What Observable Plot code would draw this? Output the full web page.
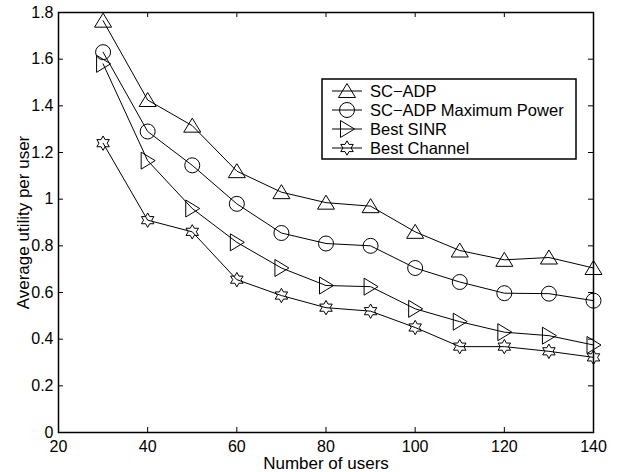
<!DOCTYPE html>
<html>
<head>
<meta charset="utf-8">
<script src="https://cdn.jsdelivr.net/npm/d3@7"></script>
<script src="https://cdn.jsdelivr.net/npm/@observablehq/plot@0.6"></script>
<style>
  html, body { margin: 0; padding: 0; background: #fff; }
  #wrap { position: relative; width: 618px; height: 472px; }
  #legend { position: absolute; left: 0; top: 0; }
</style>
</head>
<body>
<div id="wrap"></div>
<script>
// ---- data ----
const users = [30, 40, 50, 60, 70, 80, 90, 100, 110, 120, 130, 140];
const seriesNames = ["SC\u2212ADP", "SC\u2212ADP Maximum Power", "Best SINR", "Best Channel"];
const scAdp       = [1.765, 1.425, 1.315, 1.12, 1.03, 0.985, 0.97, 0.86, 0.78, 0.74, 0.75, 0.705];
const scAdpMax    = [1.63, 1.29, 1.145, 0.98, 0.855, 0.81, 0.80, 0.705, 0.645, 0.597, 0.595, 0.565];
const bestSinr    = [1.58, 1.165, 0.96, 0.815, 0.705, 0.63, 0.625, 0.53, 0.475, 0.43, 0.415, 0.375];
const bestChannel = [1.24, 0.91, 0.86, 0.655, 0.587, 0.535, 0.52, 0.45, 0.368, 0.368, 0.348, 0.322];
const xTicks = [20, 40, 60, 80, 100, 120, 140];
const xTickLabels = ["20", "40", "60", "80", "100", "120", "140"];
const yTicks = [0, 0.2, 0.4, 0.6, 0.8, 1, 1.2, 1.4, 1.6, 1.8];
const yTickLabels = ["0", "0.2", "0.4", "0.6", "0.8", "1", "1.2", "1.4", "1.6", "1.8"];
const xLabel = "Number of users";
const yLabel = "Average utility per user";

const seriesValues = [scAdp, scAdpMax, bestSinr, bestChannel];
const rows = seriesValues.flatMap((vals, s) =>
  vals.map((v, i) => ({series: seriesNames[s], x: users[i], y: v})));

// ---- marker symbols (MATLAB style, hollow) ----
const triUp = {draw(c) { c.moveTo(0, -7.5); c.lineTo(8.5, 6.5); c.lineTo(-8.5, 6.5); c.closePath(); }};
const circ = {draw(c) { const r = 7.5; c.moveTo(r, 0); c.arc(0, 0, r, 0, 2 * Math.PI); c.closePath(); }};
const triRight = {draw(c) { c.moveTo(7.5, 0); c.lineTo(-6.5, 8.5); c.lineTo(-6.5, -8.5); c.closePath(); }};
const hexagram = {draw(c) {
  const R = 7.2, r = 4.1;
  for (let k = 0; k < 12; k++) {
    const a = -Math.PI / 2 + k * Math.PI / 6;
    const rad = k % 2 === 0 ? R : r;
    const px = rad * Math.cos(a), py = rad * Math.sin(a);
    if (k === 0) c.moveTo(px, py); else c.lineTo(px, py);
  }
  c.closePath();
}};
const symbols = [triUp, circ, triRight, hexagram];

const font = "'Liberation Sans', Arial, Helvetica, sans-serif";

const chart = Plot.plot({
  width: 618,
  height: 472,
  marginLeft: 58,
  marginRight: 25,
  marginTop: 12,
  marginBottom: 40,
  style: {fontFamily: font, fontSize: "16px", background: "#fff", color: "#000"},
  x: {domain: [20, 140]},
  y: {domain: [0, 1.8]},
  marks: [
    Plot.frame({stroke: "#000", strokeWidth: 1.5}),
    Plot.tickX(xTicks, {x: d => d, insetTop: 415, stroke: "#000", strokeWidth: 1}),
    Plot.tickX(xTicks, {x: d => d, insetBottom: 415, stroke: "#000", strokeWidth: 1}),
    Plot.tickY(yTicks, {y: d => d, insetRight: 530, stroke: "#000", strokeWidth: 1}),
    Plot.tickY(yTicks, {y: d => d, insetLeft: 530, stroke: "#000", strokeWidth: 1}),
    Plot.axisX(xTicks, {tickSize: 0, tickPadding: 8, tickFormat: (d, i) => xTickLabels[i], fontSize: 16, label: null}),
    Plot.axisY(yTicks, {tickSize: 0, tickPadding: 5, tickFormat: (d, i) => yTickLabels[i], fontSize: 16, label: null}),
    Plot.line(rows, {x: "x", y: "y", z: "series", stroke: "#000", strokeWidth: 1}),
    ...seriesNames.map((name, s) =>
      Plot.dot(rows.filter(d => d.series === name), {x: "x", y: "y", symbol: symbols[s], r: 1, stroke: "#000", strokeWidth: 1, fill: "none"})),
    Plot.text([xLabel], {text: d => d, frameAnchor: "bottom", textAnchor: "middle", dy: 31, lineAnchor: "middle", fontSize: 17, fill: "#000"}),
    Plot.text([yLabel], {text: d => d, frameAnchor: "left", textAnchor: "middle", rotate: -90, dx: -35, lineAnchor: "middle", fontSize: 17, fill: "#000"})
  ]
});

const wrap = document.getElementById("wrap");
wrap.appendChild(chart);

// ---- legend overlay ----
const legend = d3.select(wrap).append("svg")
  .attr("id", "legend")
  .attr("width", 618).attr("height", 472);
const lx = 322, ly = 79, lw = 254, lh = 80, rowH = 19, firstRow = 91;
legend.append("rect")
  .attr("x", lx).attr("y", ly).attr("width", lw).attr("height", lh)
  .attr("fill", "#fff").attr("stroke", "#000").attr("stroke-width", 1.5);
seriesNames.forEach((name, s) => {
  const cy = firstRow + s * rowH;
  legend.append("line")
    .attr("x1", 332).attr("x2", 362).attr("y1", cy).attr("y2", cy)
    .attr("stroke", "#000").attr("stroke-width", 1);
  legend.append("path")
    .attr("transform", `translate(347,${cy})`)
    .attr("d", d3.symbol(symbols[s])())
    .attr("fill", "none").attr("stroke", "#000").attr("stroke-width", 1);
  legend.append("text")
    .attr("x", 370).attr("y", cy + 6)
    .attr("font-family", font).attr("font-size", 16.5)
    .attr("fill", "#000")
    .text(name);
});
</script>
</body>
</html>
